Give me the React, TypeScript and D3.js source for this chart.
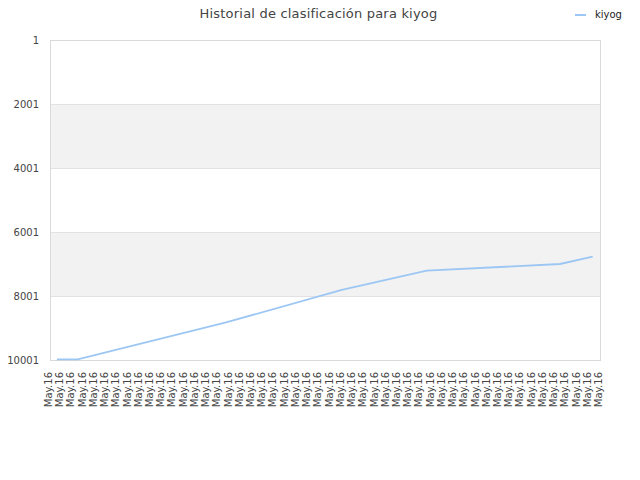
import { line, scaleLinear } from "d3";

// Historial de clasificación — rank over one day (lower is better, axis reversed)

const title = "Historial de clasificación para kiyog";
const seriesName = "kiyog";

const tickLabels = [
    "May.16", "May.16", "May.16", "May.16", "May.16", "May.16", "May.16", "May.16", "May.16", "May.16",
    "May.16", "May.16", "May.16", "May.16", "May.16", "May.16", "May.16", "May.16", "May.16", "May.16",
    "May.16", "May.16", "May.16", "May.16", "May.16", "May.16", "May.16", "May.16", "May.16", "May.16",
    "May.16", "May.16", "May.16", "May.16", "May.16", "May.16", "May.16", "May.16", "May.16", "May.16",
    "May.16", "May.16", "May.16", "May.16", "May.16", "May.16", "May.16", "May.16", "May.16", "May.16",
];

// sample time, measured in tick units along the x axis
const sampleTimes = [0.62, 2.47, 15.6, 26.0, 33.56, 45.44, 48.35];
const rankValues = [9980, 9980, 8835, 7813, 7210, 7001, 6773];

const rankTicks = [1, 2001, 4001, 6001, 8001, 10001];
const bands = [
    [2001, 4001],
    [6001, 8001],
];

type Sample = { t: number; rank: number };

export default function App() {
    const width = 640;
    const height = 480;
    const margin = { top: 40, right: 40, bottom: 120, left: 50 };
    const font = "DejaVu Sans, Verdana, sans-serif";
    const lineColor = "#9cc7f4";
    const textColor = "#444";

    const samples: Sample[] = sampleTimes.map((t, i) => ({ t, rank: rankValues[i] }));

    const x = scaleLinear()
        .domain([0, tickLabels.length - 1])
        .range([margin.left, width - margin.right]);
    const y = scaleLinear()
        .domain([1, 10001])
        .range([margin.top, height - margin.bottom]);

    const rankLine = line<Sample>()
        .x((d) => x(d.t))
        .y((d) => y(d.rank));

    const plotLeft = margin.left;
    const plotRight = width - margin.right;
    const plotTop = margin.top;
    const plotBottom = height - margin.bottom;

    return (
        <svg
            width={width}
            height={height}
            style={{ position: "absolute", left: 0, top: 0, background: "#fff" }}
        >
            {/* Title */}
            <text
                x={318.5}
                y={18}
                textAnchor="middle"
                fontSize={13}
                fill={textColor}
                fontFamily={font}
                style={{ letterSpacing: "0.2px" }}
            >
                {title}
            </text>

            {/* Legend */}
            <line x1={575} x2={586} y1={15} y2={15} stroke={lineColor} strokeWidth={2} />
            <text x={595} y={18} fontSize={10} fill="#222" fontFamily={font}>
                {seriesName}
            </text>

            {/* Bands */}
            {bands.map(([a, b]) => (
                <rect
                    key={a}
                    x={plotLeft}
                    y={y(a)}
                    width={plotRight - plotLeft}
                    height={y(b) - y(a)}
                    fill="#f2f2f2"
                />
            ))}

            {/* Grid + y labels */}
            {rankTicks.map((tick) => (
                <g key={tick}>
                    <line
                        x1={plotLeft}
                        x2={plotRight}
                        y1={y(tick)}
                        y2={y(tick)}
                        stroke="#e2e2e2"
                        shapeRendering="crispEdges"
                    />
                    <text
                        x={plotLeft - 11}
                        y={y(tick) + 4}
                        textAnchor="end"
                        fontSize={10}
                        fill={textColor}
                        fontFamily={font}
                    >
                        {tick}
                    </text>
                </g>
            ))}

            {/* Frame */}
            <rect
                x={plotLeft}
                y={plotTop}
                width={plotRight - plotLeft}
                height={plotBottom - plotTop}
                fill="none"
                stroke="#dadada"
                shapeRendering="crispEdges"
            />

            {/* X labels */}
            {tickLabels.map((label, i) => (
                <text
                    key={i}
                    transform={`translate(${x(i) + 2}, ${plotBottom + 12}) rotate(-90)`}
                    textAnchor="end"
                    fontSize={10}
                    fill={textColor}
                    fontFamily={font}
                >
                    {label}
                </text>
            ))}

            {/* Rank line */}
            <path d={rankLine(samples) ?? ""} fill="none" stroke={lineColor} strokeWidth={1.8} />
        </svg>
    );
}
